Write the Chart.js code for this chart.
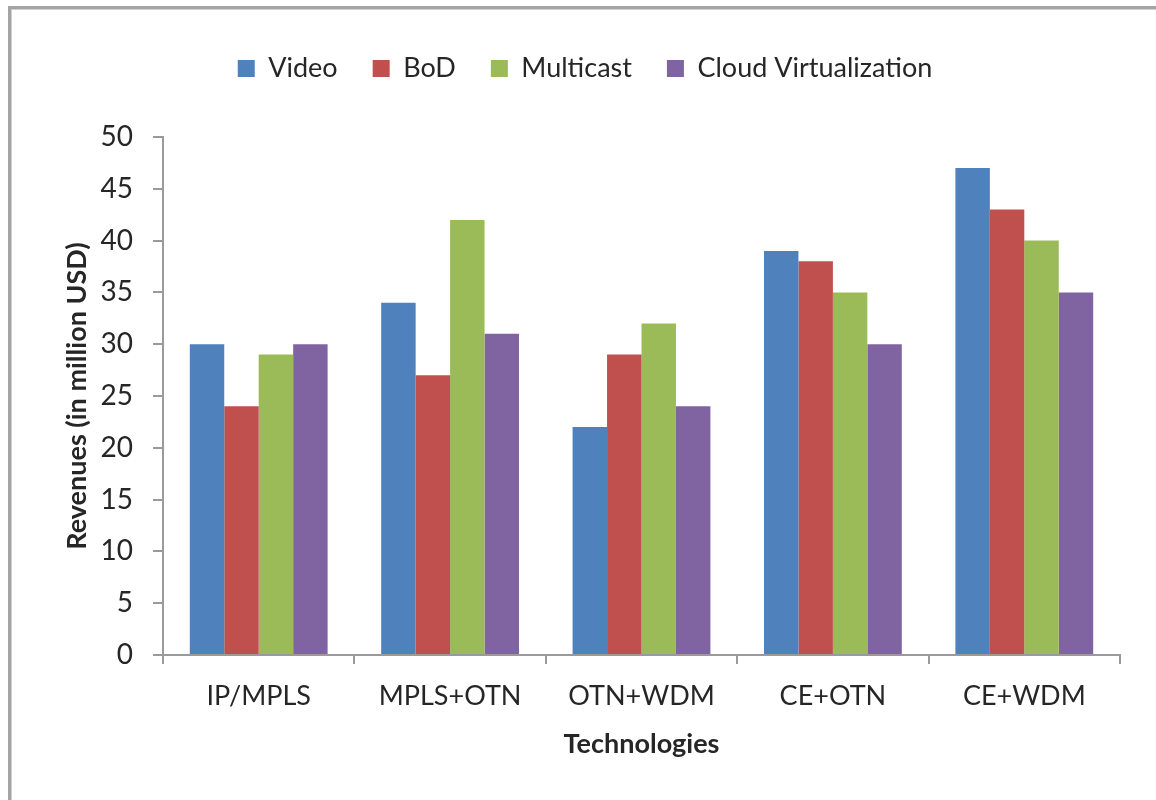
<!DOCTYPE html>
<html>
<head>
<meta charset="utf-8">
<title>Revenues by technology</title>
<script src="https://cdn.jsdelivr.net/npm/chart.js@4/dist/chart.umd.min.js"></script>
<style>
  html, body { margin: 0; padding: 0; background: #fff; }
  .wrap { position: relative; width: 1156px; height: 800px; overflow: hidden; }
  .frame {
    position: absolute; left: 8px; top: 6px; width: 1160px; height: 791px;
    border-top: 3px solid #a4a4a4; border-left: 3px solid #a4a4a4; border-bottom: 1px solid #e4e4e4;
    box-shadow: inset 1px 1px 0 #d0d0d0;
    pointer-events: none;
  }
  canvas { position: absolute; left: 0; top: 0; }
</style>
</head>
<body>
<div class="wrap">
  <canvas id="revenue-chart" width="1156" height="800"></canvas>
  <div class="frame"></div>
</div>
<script>
const technologies = ['IP/MPLS', 'MPLS+OTN', 'OTN+WDM', 'CE+OTN', 'CE+WDM'];
const videoRevenue = [30, 34, 22, 39, 47];
const bodRevenue = [24, 27, 29, 38, 43];
const multicastRevenue = [29, 42, 32, 35, 40];
const cloudRevenue = [30, 31, 24, 30, 35];

const FONT = 'Lato, "Open Sans", sans-serif';
const TEXT = '#262626';
const AXIS = '#9a9a9a';

// push the plot area down below the legend
const legendSpacer = {
  id: 'legendSpacer',
  beforeInit(chart) {
    const origFit = chart.legend.fit;
    chart.legend.fit = function () {
      origFit.bind(chart.legend)();
      this.height += 45;
    };
  }
};

const series = [
  { label: 'Video', data: videoRevenue, color: '#4f81bd' },
  { label: 'BoD', data: bodRevenue, color: '#c0504d' },
  { label: 'Multicast', data: multicastRevenue, color: '#9bbb59' },
  { label: 'Cloud Virtualization', data: cloudRevenue, color: '#8064a2' }
];

new Chart(document.getElementById('revenue-chart'), {
  type: 'bar',
  data: {
    labels: technologies,
    datasets: series.map(s => ({
      label: s.label,
      data: s.data,
      backgroundColor: s.color,
      borderWidth: 0,
      categoryPercentage: 0.72,
      barPercentage: 1.0
    }))
  },
  plugins: [legendSpacer],
  options: {
    responsive: false,
    animation: false,
    layout: { padding: { left: 50, right: 36, top: 20, bottom: 20 } },
    plugins: {
      tooltip: { enabled: false },
      legend: {
        position: 'top',
        labels: {
          boxWidth: 17,
          boxHeight: 17,
          padding: 35,
          color: TEXT,
          font: { family: FONT, size: 27 }
        }
      }
    },
    scales: {
      x: {
        afterFit(scale) { scale.height = 125; },
        grid: { display: true, drawOnChartArea: false, offset: true, tickLength: 9, color: AXIS, lineWidth: 2 },
        border: { color: AXIS, width: 2 },
        ticks: { color: TEXT, padding: 16, font: { family: FONT, size: 27 } },
        title: {
          display: true,
          text: 'Technologies',
          color: TEXT,
          padding: { top: 0, bottom: 20 },
          font: { family: FONT, size: 27, weight: 'bold' }
        }
      },
      y: {
        min: 0,
        max: 50,
        afterFit(scale) { scale.width = 113; },
        grid: { display: true, drawOnChartArea: false, tickLength: 10, color: AXIS, lineWidth: 2 },
        border: { color: AXIS, width: 2 },
        ticks: { stepSize: 5, color: TEXT, padding: 20, font: { family: FONT, size: 28 } },
        title: {
          display: true,
          text: 'Revenues (in million USD)',
          color: TEXT,
          padding: { top: 11, bottom: 0 },
          font: { family: FONT, size: 27, weight: 'bold' }
        }
      }
    }
  }
});
</script>
</body>
</html>
